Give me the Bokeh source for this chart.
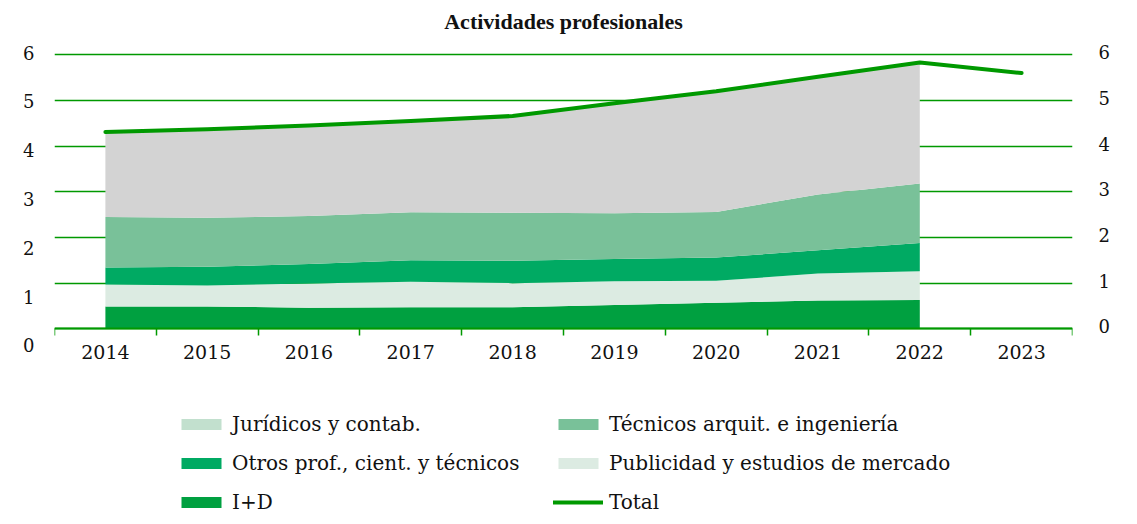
from bokeh.plotting import figure
from bokeh.models import (Range1d, LinearAxis, FixedTicker, ColumnDataSource,
                          Legend, LegendItem, Grid, Label)
from bokeh.embed import file_html
from bokeh.resources import INLINE

# Actividades profesionales: stacked components (2014-2022) and total (2014-2023)
years = [2014, 2015, 2016, 2017, 2018, 2019, 2020, 2021, 2022]
years_total = [2014, 2015, 2016, 2017, 2018, 2019, 2020, 2021, 2022, 2023]

i_d = [0.49, 0.49, 0.46, 0.47, 0.47, 0.52, 0.57, 0.62, 0.63]
publicidad = [0.48, 0.46, 0.53, 0.56, 0.53, 0.52, 0.48, 0.59, 0.63]
otros = [0.37, 0.41, 0.43, 0.47, 0.49, 0.49, 0.51, 0.51, 0.62]
tecnicos = [1.11, 1.07, 1.05, 1.05, 1.05, 1.00, 1.00, 1.22, 1.30]
juridicos = [1.86, 1.94, 1.98, 2.00, 2.12, 2.41, 2.64, 2.58, 2.65]
total = [4.31, 4.37, 4.45, 4.55, 4.66, 4.94, 5.20, 5.52, 5.83, 5.60]

y_ticks = [0, 1, 2, 3, 4, 5, 6]
year_labels = [str(y) for y in years_total]

FONT = "DejaVu Serif"
TITLE_FONT = "Liberation Serif"
GREEN_LINE = "#009900"
TEXT = "#111111"

# The frame fills the whole height so the title and legend sit inside it;
# the y ranges are set so that 0..6 occupies the chart band.
p = figure(width=1137, height=524, output_backend="svg", toolbar_location=None,
           x_range=Range1d(2013.5, 2023.5), y_range=Range1d(-4.285, 7.189),
           x_axis_location=None, y_axis_location=None,
           min_border_left=54, min_border_right=65,
           min_border_top=0, min_border_bottom=0)
p.outline_line_color = None
p.background_fill_color = "white"
p.border_fill_color = "white"
p.xgrid.visible = False
p.ygrid.visible = False

p.add_layout(Label(x=509, y=503, x_units="screen", y_units="screen",
                   text="Actividades profesionales", text_align="center",
                   text_baseline="middle", text_font=TITLE_FONT, text_font_size="22px",
                   text_font_style="bold", text_color=TEXT))

src = ColumnDataSource(dict(x=years, i_d=i_d, publicidad=publicidad, otros=otros,
                            tecnicos=tecnicos, juridicos=juridicos))
stack_names = ["i_d", "publicidad", "otros", "tecnicos", "juridicos"]
stack_colors = ["#00A040", "#DCEBE2", "#00AA63", "#79C199", "#D3D3D3"]

# horizontal grid
p.add_layout(Grid(dimension=1, ticker=FixedTicker(ticks=y_ticks),
                  grid_line_color=GREEN_LINE, grid_line_width=1.5))

areas = p.varea_stack(stackers=stack_names, x="x", color=stack_colors, source=src)

line = p.line(years_total, total, line_color=GREEN_LINE, line_width=4,
              line_cap="round", line_join="round")

# zero-height proxy carrying the legend colour of the legal/accounting series
jur_swatch = p.varea(x=years, y1=[0] * len(years), y2=[0] * len(years),
                     fill_color="#C2E0CE")

# x axis sitting at y = 0: year labels at centres, tick marks at year boundaries
xax = LinearAxis(fixed_location=0)
xax.ticker = FixedTicker(ticks=years_total,
                         minor_ticks=[y - 0.5 for y in years_total] + [2023.5])
xax.major_label_overrides = {y: s for y, s in zip(years_total, year_labels)}
xax.major_tick_line_color = None
xax.minor_tick_line_color = GREEN_LINE
xax.minor_tick_line_width = 1.5
xax.minor_tick_in = 0
xax.minor_tick_out = 7
xax.axis_line_color = GREEN_LINE
xax.axis_line_width = 2
xax.major_label_standoff = 9
xax.major_label_text_font = FONT
xax.major_label_text_font_size = "19px"
xax.major_label_text_color = TEXT
p.add_layout(xax, "below")

# the two value scales, each on its own range
p.extra_y_ranges = {"lhs": Range1d(-3.666, 7.065), "rhs": Range1d(-4.339, 7.132)}


def value_axis(range_name, standoff):
    ax = LinearAxis(y_range_name=range_name, ticker=FixedTicker(ticks=y_ticks))
    ax.axis_line_color = None
    ax.major_tick_line_color = None
    ax.minor_tick_line_color = None
    ax.major_tick_out = 0
    ax.major_label_standoff = standoff
    ax.major_label_text_font = FONT
    ax.major_label_text_font_size = "18px"
    ax.major_label_text_color = TEXT
    return ax


p.add_layout(value_axis("lhs", 20), "left")
p.add_layout(value_axis("rhs", 26), "right")

# legend items in row-major order for a two-column layout
legend = Legend(items=[
    LegendItem(label="Jurídicos y contab.", renderers=[jur_swatch]),
    LegendItem(label="Otros prof., cient. y técnicos", renderers=[areas[2]]),
    LegendItem(label="I+D", renderers=[areas[0]]),
    LegendItem(label="Técnicos arquit. e ingeniería", renderers=[areas[3]]),
    LegendItem(label="Publicidad y estudios de mercado", renderers=[areas[1]]),
    LegendItem(label="Total", renderers=[line]),
], ncols=2, location=(122, 10))
legend.glyph_width = 50
legend.glyph_height = 14
legend.label_standoff = 6
legend.label_width = 306
legend.spacing = 15
legend.padding = 0
legend.margin = 0
legend.border_line_color = None
legend.background_fill_alpha = 0
legend.label_text_font = FONT
legend.label_text_font_size = "20px"
legend.label_text_color = TEXT
p.add_layout(legend, "center")

open("out.html", "w").write(file_html(p, INLINE))
